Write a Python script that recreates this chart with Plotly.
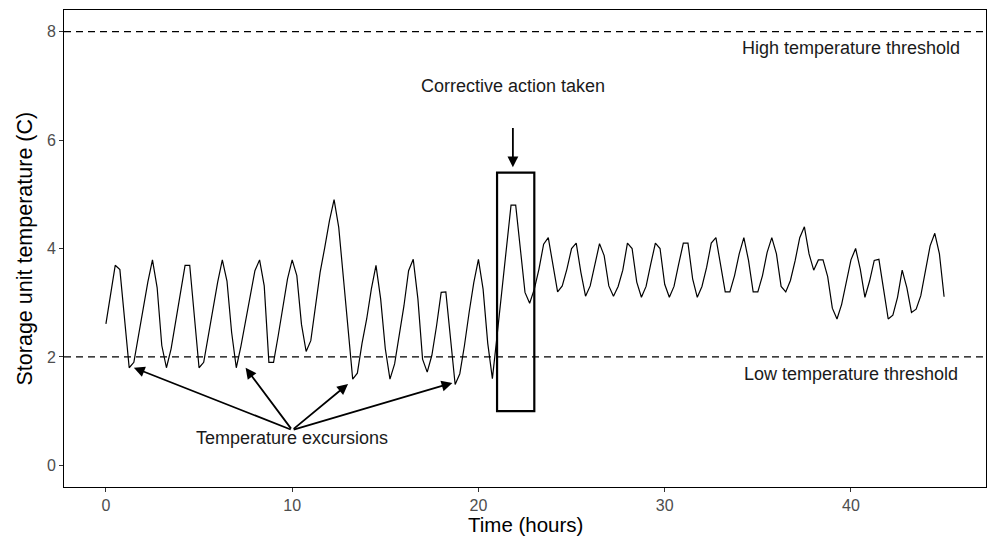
import plotly.graph_objects as go

# ---- data ----
step_hours = 0.25
temperature = [
    2.61, 3.16, 3.69, 3.61, 2.70, 1.80, 1.90, 2.39, 2.95, 3.38, 3.79, 3.28,
    2.21, 1.80, 2.15, 2.64, 3.19, 3.69, 3.69, 2.75, 1.80, 1.90, 2.39, 2.95,
    3.38, 3.79, 3.40, 2.45, 1.80, 2.20, 2.67, 3.13, 3.59, 3.79, 3.31, 1.90,
    1.90, 2.39, 2.94, 3.44, 3.79, 3.50, 2.60, 2.10, 2.30, 2.94, 3.56, 4.02,
    4.51, 4.90, 4.39, 3.46, 2.53, 1.59, 1.70, 2.25, 2.70, 3.25, 3.69, 3.07,
    2.15, 1.59, 1.87, 2.39, 2.94, 3.59, 3.80, 3.07, 1.96, 1.72, 2.03, 2.57,
    3.19, 3.20, 2.40, 1.49, 1.69, 2.21, 2.82, 3.37, 3.80, 3.25, 2.25, 1.60,
    2.39, 3.19, 3.99, 4.80, 4.80, 4.05, 3.19, 2.99, 3.25, 3.62, 4.08, 4.20,
    3.68, 3.20, 3.31, 3.62, 4.00, 4.10, 3.56, 3.12, 3.31, 3.68, 4.09, 3.87,
    3.31, 3.12, 3.30, 3.60, 4.10, 4.00, 3.38, 3.10, 3.30, 3.71, 4.10, 4.00,
    3.34, 3.10, 3.30, 3.71, 4.10, 4.10, 3.44, 3.10, 3.30, 3.65, 4.10, 4.20,
    3.68, 3.20, 3.20, 3.50, 3.90, 4.20, 3.78, 3.20, 3.20, 3.50, 3.93, 4.20,
    3.90, 3.30, 3.20, 3.41, 3.77, 4.20, 4.40, 3.90, 3.60, 3.79, 3.79, 3.48,
    2.90, 2.70, 2.97, 3.41, 3.79, 4.00, 3.62, 3.10, 3.40, 3.78, 3.80, 3.25,
    2.70, 2.77, 3.10, 3.60, 3.28, 2.82, 2.88, 3.13, 3.62, 4.05, 4.28, 3.90,
    3.11,
]
hours = [i * step_hours for i in range(len(temperature))]

high_threshold = 8
low_threshold = 2
high_label = "High temperature threshold"
low_label = "Low temperature threshold"
threshold_label_x = 40
high_label_y = 7.7
low_label_y = 1.68

# corrective action box and callout
action_box_x = [21, 23]
action_box_y = [1, 5.4]
action_label = "Corrective action taken"
action_label_xy = (21.85, 7.0)
action_arrow_from = (21.85, 6.25)
action_arrow_to = (21.85, 5.5)

# temperature excursion callouts
excursion_label = "Temperature excursions"
excursion_label_xy = (10, 0.5)
excursion_origin = (10, 0.65)
excursion_targets_x = [1.5, 7.5, 13.0, 18.6]
excursion_targets_y = [1.8, 1.8, 1.5, 1.52]

x_ticks = [0, 10, 20, 30, 40]
y_ticks = [0, 2, 4, 6, 8]
x_range = [-2.25, 47.25]
y_range = [-0.4, 8.4]
x_title = "Time (hours)"
y_title = "Storage unit temperature (C)"

FONT = "Liberation Sans, Arial, Helvetica, sans-serif"
W, H = 987, 541
M = dict(l=64, r=1, t=10, b=54)

fig = go.Figure()
fig.add_trace(go.Scatter(
    x=hours, y=temperature, mode="lines",
    line=dict(color="black", width=1.2),
    showlegend=False, hoverinfo="skip",
))

shapes = []
for yv in (high_threshold, low_threshold):
    shapes.append(dict(type="line", xref="paper", yref="y", x0=0, x1=1, y0=yv, y1=yv,
                       line=dict(color="black", width=1.3, dash="7px,5px")))
shapes.append(dict(type="rect", xref="x", yref="y",
                   x0=action_box_x[0], x1=action_box_x[1],
                   y0=action_box_y[0], y1=action_box_y[1],
                   line=dict(color="black", width=2.2), fillcolor="rgba(0,0,0,0)"))

txt_font = dict(size=18, color="#1a1a1a", family=FONT)
annotations = [
    dict(x=threshold_label_x, y=high_label_y, text=high_label, showarrow=False, font=txt_font),
    dict(x=threshold_label_x, y=low_label_y, text=low_label, showarrow=False, font=txt_font),
    dict(x=action_label_xy[0], y=action_label_xy[1], text=action_label, showarrow=False, font=txt_font),
    dict(x=excursion_label_xy[0], y=excursion_label_xy[1], text=excursion_label, showarrow=False, font=txt_font),
    dict(x=action_arrow_to[0], y=action_arrow_to[1], ax=action_arrow_from[0], ay=action_arrow_from[1],
         xref="x", yref="y", axref="x", ayref="y", text="", showarrow=True,
         arrowhead=2, arrowsize=1.2, arrowwidth=1.8, arrowcolor="black", standoff=0),
    # axis titles (placed in paper space so the panel keeps its size)
    dict(x=0.5, y=-(524 - (H - M["b"])) / (H - M["t"] - M["b"]), xref="paper", yref="paper",
         text=x_title, showarrow=False, xanchor="center", yanchor="middle",
         font=dict(size=20.5, color="black", family=FONT)),
    dict(x=-(M["l"] - 24) / (W - M["l"] - M["r"]), y=0.5, xref="paper", yref="paper",
         text=y_title, showarrow=False, textangle=-90, xanchor="center", yanchor="middle",
         font=dict(size=21.5, color="black", family=FONT)),
]
for tx, ty in zip(excursion_targets_x, excursion_targets_y):
    annotations.append(dict(
        x=tx, y=ty, ax=excursion_origin[0], ay=excursion_origin[1],
        xref="x", yref="y", axref="x", ayref="y", text="", showarrow=True,
        arrowhead=2, arrowsize=1.2, arrowwidth=1.8, arrowcolor="black", standoff=0))

fig.update_layout(
    width=W, height=H,
    margin=dict(l=M["l"], r=M["r"], t=M["t"], b=M["b"], autoexpand=False),
    paper_bgcolor="white", plot_bgcolor="white",
    font=dict(family=FONT, color="black"),
    shapes=shapes, annotations=annotations,
    showlegend=False,
)
fig.update_xaxes(
    range=x_range, tickvals=x_ticks, ticks="outside", ticklen=4, tickwidth=1,
    tickcolor="#333333", tickfont=dict(size=16, color="#4d4d4d", family=FONT),
    showline=True, linecolor="black", linewidth=1, mirror=True,
    showgrid=False, zeroline=False, automargin=False,
)
fig.update_yaxes(
    range=y_range, tickvals=y_ticks, ticks="outside", ticklen=4, tickwidth=1,
    tickcolor="#333333", tickfont=dict(size=16, color="#4d4d4d", family=FONT),
    showline=True, linecolor="black", linewidth=1, mirror=True,
    showgrid=False, zeroline=False, automargin=False,
)

fig.write_html(
    "out.html",
    config={"responsive": False, "displayModeBar": False},
    post_script="document.body.style.margin='0px';document.body.style.overflow='hidden';",
)
